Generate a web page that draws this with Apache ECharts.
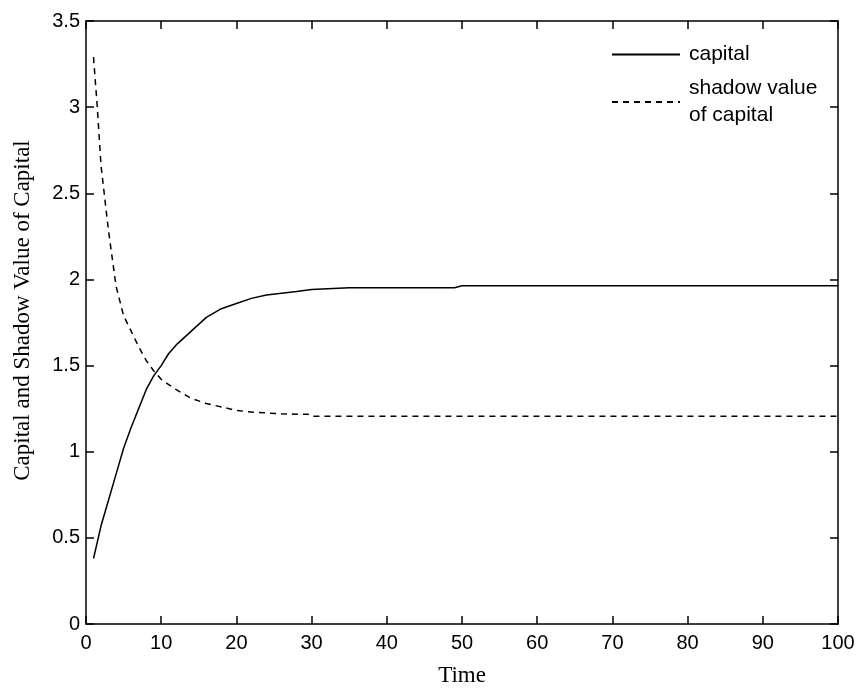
<!DOCTYPE html>
<html>
<head>
<meta charset="utf-8">
<script src="https://cdn.jsdelivr.net/npm/echarts@6/dist/echarts.min.js"></script>
<style>
html,body{margin:0;padding:0;background:#fff;}
#chart{width:861px;height:689px;}
</style>
</head>
<body>
<div id="chart"></div>
<script>
var capitalTime = [1, 2, 3, 4, 5, 6, 7, 8, 9, 10, 11, 12, 14, 16, 18, 20, 22, 24, 26, 28, 30, 35, 40, 49, 50, 60, 70, 80, 90, 100];
var capitalValue = [0.38, 0.57, 0.72, 0.87, 1.02, 1.14, 1.25, 1.36, 1.44, 1.50, 1.57, 1.62, 1.70, 1.78, 1.83, 1.86, 1.89, 1.91, 1.92, 1.93, 1.942, 1.952, 1.952, 1.952, 1.963, 1.963, 1.963, 1.963, 1.963, 1.963];
var shadowTime = [1, 1.5, 2, 3, 4, 5, 6, 7, 8, 9, 10, 11, 12, 14, 16, 18, 20, 22, 24, 26, 28, 29.5, 30, 40, 50, 60, 70, 80, 90, 100];
var shadowValue = [3.29, 3.0, 2.66, 2.28, 1.96, 1.79, 1.70, 1.61, 1.53, 1.47, 1.42, 1.39, 1.36, 1.31, 1.28, 1.26, 1.24, 1.23, 1.225, 1.22, 1.218, 1.218, 1.206, 1.206, 1.206, 1.206, 1.206, 1.206, 1.206, 1.206];
var seriesNames = ['capital', 'shadow value\nof capital'];
var xTitle = 'Time';
var yTitle = 'Capital and Shadow Value of Capital';

function pairs(t, v) { return t.map(function (x, i) { return [x, v[i]]; }); }

var chart = echarts.init(document.getElementById('chart'));
var axisLine = { show: true, onZero: false, lineStyle: { color: '#000', width: 1.5 } };
var tickStyle = { show: true, inside: true, length: 8, lineStyle: { color: '#000', width: 1.5 } };
var labelStyle = { color: '#000', fontFamily: 'Liberation Sans', fontSize: 20 };
var nameStyle = { color: '#000', fontFamily: 'Liberation Serif', fontSize: 23 };

chart.setOption({
  animation: false,
  backgroundColor: '#fff',
  grid: { left: 86, right: 23, top: 21, bottom: 65, containLabel: false, outerBoundsMode: 'none' },
  legend: {
    orient: 'vertical',
    left: 606,
    top: 36,
    itemWidth: 68,
    itemHeight: 14,
    itemGap: 7,
    itemStyle: { opacity: 0, borderWidth: 0 },
    textStyle: { color: '#000', fontFamily: 'Liberation Sans', fontSize: 21, lineHeight: 27, padding: [0, 0, 0, 4] },
    data: seriesNames
  },
  xAxis: [{
    type: 'value', min: 0, max: 100, interval: 10,
    name: xTitle, nameLocation: 'middle', nameGap: 40, nameTextStyle: nameStyle,
    axisLine: axisLine, axisTick: tickStyle, splitLine: { show: false },
    axisLabel: Object.assign({ margin: 9 }, labelStyle)
  }, {
    type: 'value', min: 0, max: 100, interval: 10, position: 'top',
    axisLine: axisLine, axisTick: tickStyle, splitLine: { show: false }, axisLabel: { show: false }
  }],
  yAxis: [{
    type: 'value', min: 0, max: 3.5, interval: 0.5,
    name: yTitle, nameLocation: 'middle', nameGap: 52, nameRotate: 90,
    nameTextStyle: Object.assign({ padding: [0, 0, 0, 24] }, nameStyle),
    axisLine: axisLine, axisTick: tickStyle, splitLine: { show: false },
    axisLabel: Object.assign({ margin: 6 }, labelStyle)
  }, {
    type: 'value', min: 0, max: 3.5, interval: 0.5, position: 'right',
    axisLine: axisLine, axisTick: tickStyle, splitLine: { show: false }, axisLabel: { show: false }
  }],
  series: [{
    name: seriesNames[0], type: 'line', showSymbol: false, symbol: 'none',
    lineStyle: { color: '#000', width: 1.5, type: 'solid' },
    itemStyle: { color: '#000' },
    data: pairs(capitalTime, capitalValue)
  }, {
    name: seriesNames[1], type: 'line', showSymbol: false, symbol: 'none',
    lineStyle: { color: '#000', width: 1.5, type: [6, 5] },
    itemStyle: { color: '#000' },
    data: pairs(shadowTime, shadowValue)
  }]
});
</script>
</body>
</html>
